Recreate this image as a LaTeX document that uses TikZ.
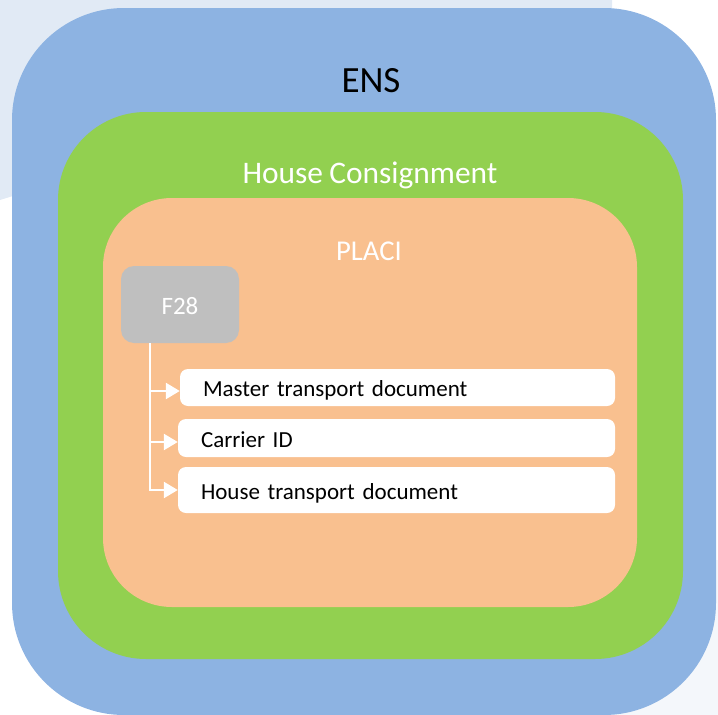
\documentclass[tikz,border=0pt]{standalone}
\usepackage{fontspec}
\setmainfont{Carlito}[WordSpace=0.9]
\usetikzlibrary{arrows.meta}
\definecolor{ensblue}{HTML}{8DB3E2}
\definecolor{hcgreen}{HTML}{92D050}
\definecolor{placipeach}{HTML}{F9C08F}
\definecolor{f28gray}{HTML}{BFBFBF}
\definecolor{bgblue}{HTML}{E1EAF5}
\definecolor{bgfaint}{HTML}{F4F7FB}
\tikzset{
  itembox/.style={fill=white, rounded corners=8pt, inner xsep=23pt, inner ysep=0pt,
    text height=18pt, text depth=0pt, align=left, font=\fontsize{23}{26}\selectfont},
  conn/.style={draw=white, line width=2.5pt, -{Triangle[length=14pt,width=16pt]}},
  title/.style={anchor=base, inner sep=0pt}
}
\begin{document}
\begin{tikzpicture}[x=1pt,y=-1pt]
\useasboundingbox (0,0) rectangle (718,715);
% faint background
\fill[bgblue] (0,0) -- (612,0) -- (612,10) -- (0,200) -- cycle;
\fill[bgfaint] (600,560) rectangle (718,715);
% layers
\fill[ensblue, rounded corners=112pt] (12,8) rectangle (716,715);
\fill[hcgreen, rounded corners=88pt] (58,112) rectangle (683,659);
\fill[placipeach, rounded corners=69pt] (103,198) rectangle (637,607);
% titles
\node[title, font=\fontsize{37}{40}\selectfont] (ens) at (371,92) {ENS};
\node[title, text=white, font=\fontsize{31.4}{34}\selectfont] (hc) at (370,183) {House Consignment};
\node[title, text=white, font=\fontsize{28.7}{31}\selectfont] (placi) at (369,260) {PLACI};
% F28
\node[fill=f28gray, rounded corners=13pt, minimum width=118pt, minimum height=77pt,
      inner sep=0pt, text=white, font=\fontsize{25}{28}\selectfont,
      text height=20pt, text depth=0pt] (f28) at (180,304.5) {F28};
% items
\node[itembox, minimum width=435pt, minimum height=37pt, text width=389pt] (b1) at (397.5,387.5) {Master transport document};
\node[itembox, minimum width=437pt, minimum height=38pt, text width=391pt] (b2) at (396.5,438) {Carrier ID};
\node[itembox, minimum width=437pt, minimum height=46pt, text width=391pt] (b3) at (396.5,490) {House transport document};
% connectors
\draw[conn] ([xshift=29pt]f28.south west) |- ([yshift=-3.5pt]b1.west);
\draw[conn] ([xshift=29pt]f28.south west) |- ([yshift=-4pt]b2.west);
\draw[conn] ([xshift=29pt]f28.south west) |- (b3.west);
\end{tikzpicture}
\end{document}
